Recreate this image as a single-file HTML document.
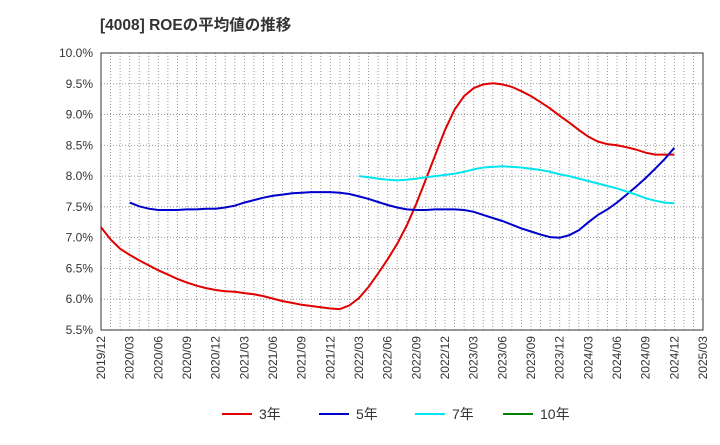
<!DOCTYPE html>
<html><head><meta charset="utf-8"><style>
body{margin:0;background:#fff;width:720px;height:440px;overflow:hidden;font-family:"Liberation Sans","Noto Sans CJK JP",sans-serif}
</style></head><body>
<svg id="c" width="720" height="440" xmlns="http://www.w3.org/2000/svg">
<text x="100" y="30" font-size="15.5" font-weight="bold" fill="#333">[4008]  ROEの平均値の推移</text>
</svg>
<script>
const yTicks=[5.5,6.0,6.5,7.0,7.5,8.0,8.5,9.0,9.5,10.0];
const xTickLabels=["2019/12","2020/03","2020/06","2020/09","2020/12","2021/03","2021/06","2021/09","2021/12","2022/03","2022/06","2022/09","2022/12","2023/03","2023/06","2023/09","2023/12","2024/03","2024/06","2024/09","2024/12","2025/03"];
const s3=[7.17,6.97,6.82,6.72,6.63,6.55,6.47,6.40,6.33,6.27,6.22,6.18,6.15,6.13,6.12,6.10,6.08,6.05,6.01,5.97,5.94,5.91,5.89,5.87,5.85,5.84,5.90,6.02,6.20,6.42,6.65,6.90,7.20,7.55,7.95,8.35,8.75,9.08,9.30,9.43,9.49,9.51,9.49,9.45,9.38,9.30,9.20,9.10,8.98,8.87,8.75,8.64,8.56,8.52,8.50,8.47,8.43,8.38,8.35,8.35,8.35];
const s5=[null,null,null,7.57,7.51,7.47,7.45,7.45,7.45,7.46,7.46,7.47,7.47,7.49,7.52,7.57,7.61,7.65,7.68,7.70,7.72,7.73,7.74,7.74,7.74,7.73,7.71,7.67,7.63,7.58,7.53,7.49,7.46,7.45,7.45,7.46,7.46,7.46,7.45,7.42,7.37,7.32,7.27,7.21,7.15,7.10,7.05,7.01,7.00,7.04,7.12,7.25,7.37,7.46,7.57,7.70,7.83,7.97,8.12,8.28,8.46];
const s7=[null,null,null,null,null,null,null,null,null,null,null,null,null,null,null,null,null,null,null,null,null,null,null,null,null,null,null,8.00,7.98,7.96,7.94,7.93,7.94,7.96,7.98,8.00,8.02,8.04,8.07,8.11,8.14,8.15,8.16,8.15,8.14,8.12,8.10,8.07,8.03,8.00,7.96,7.92,7.88,7.84,7.80,7.75,7.70,7.64,7.60,7.57,7.56];
const s10=[];
const L=101,R=703,T=53,B=330,NM=63;
const X=m=>L+(R-L)*m/NM, Y=v=>B-(B-T)*(v-5.5)/4.5;
const svg=document.getElementById('c'),NS='http://www.w3.org/2000/svg';
function mk(t,a,p){const e=document.createElementNS(NS,t);for(const k in a)e.setAttribute(k,a[k]);(p||svg).appendChild(e);return e;}
const grid=mk('g',{});


for(let m=1;m<NM;m++){mk('line',{x1:X(m),x2:X(m),y1:T,y2:B,stroke:'#999','stroke-width':1,'stroke-dasharray':'1,2'},grid);}
yTicks.forEach(v=>{
 if(v>5.5&&v<10)mk('line',{x1:L,x2:R,y1:Y(v),y2:Y(v),stroke:'#999','stroke-width':1,'stroke-dasharray':'1,2'},grid);
 const t=mk('text',{x:L-8,y:Y(v)+4,'text-anchor':'end','font-size':12,fill:'#333'});t.textContent=v.toFixed(1)+'%';
 
 
});
xTickLabels.forEach((s,i)=>{
 const x=X(i*3);
 const t=mk('text',{x:x+4,y:B+6,'text-anchor':'end','font-size':12,fill:'#333',transform:`rotate(-90 ${x+4} ${B+6})`});t.textContent=s;
 
 
});
const fr=mk('rect',{x:L,y:T,width:R-L,height:B-T,fill:'none',stroke:'#333','stroke-width':1});


function line(arr,col,name){
 let d='';arr.forEach((v,i)=>{if(v==null)return;d+=(d?'L':'M')+X(i).toFixed(1)+','+Y(v).toFixed(1);});
 if(!d)return;
 const p=mk('path',{d:d,fill:'none',stroke:col,'stroke-width':2});
 
 
}
line(s3,'#e00000','series-3yr');line(s5,'#0000cc','series-5yr');line(s7,'#00e5ee','series-7yr');line(s10,'#008000','series-10yr');
const leg=[['3年','#e00000',222],['5年','#0000cc',319],['7年','#00e5ee',415],['10年','#008000',503]];
leg.forEach(([n,c,x])=>{
 const g=mk('g',{});
 
 
 mk('line',{x1:x,x2:x+30,y1:414,y2:414,stroke:c,'stroke-width':2},g);
 const t=mk('text',{x:x+37,y:419,'font-size':14,fill:'#333'},g);t.textContent=n;
});
</script>
</body></html>
